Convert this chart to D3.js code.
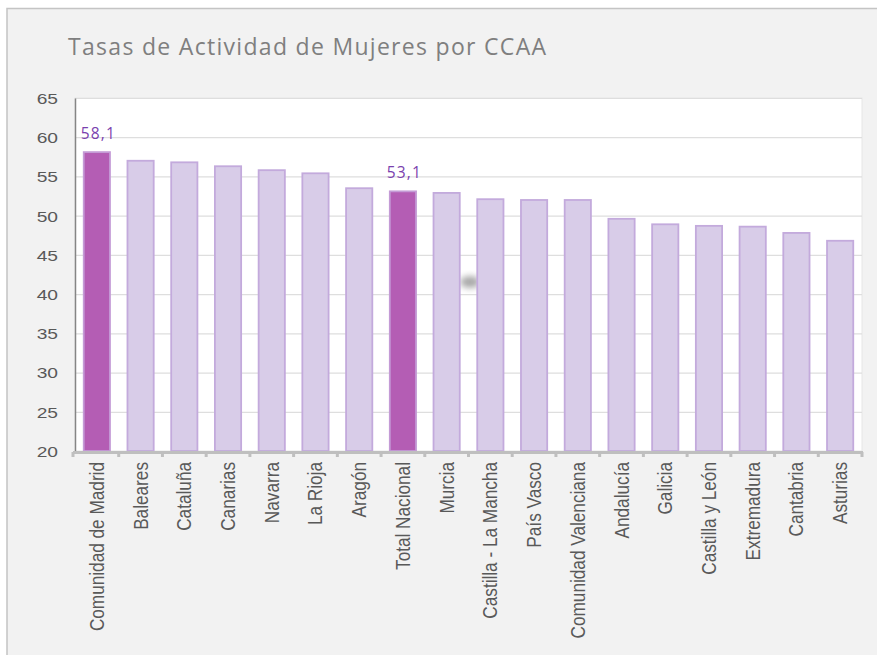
<!DOCTYPE html>
<html>
<head>
<meta charset="utf-8">
<script src="https://cdn.jsdelivr.net/npm/d3@7"></script>
<style>
  body { margin: 0; background: #fff; }
  svg { display: block; }
</style>
</head>
<body>
<div class="chart-container"></div>
<script>
var regions = ["Comunidad de Madrid", "Baleares", "Cataluña", "Canarias", "Navarra", "La Rioja",
    "Aragón", "Total Nacional", "Murcia", "Castilla - La Mancha", "País Vasco",
    "Comunidad Valenciana", "Andalucía", "Galicia", "Castilla y León", "Extremadura",
    "Cantabria", "Asturias"];
var tasas = [58.1, 57.0, 56.8, 56.3, 55.8, 55.4, 53.5, 53.1, 52.9, 52.1, 52.0, 52.0,
    49.6, 48.9, 48.7, 48.6, 47.8, 46.8];
var destacados = ["Comunidad de Madrid", "Total Nacional"];
var yTicks = [20, 25, 30, 35, 40, 45, 50, 55, 60, 65];

var width = 877, height = 655;
var margin = {top: 98, right: 15, bottom: 204, left: 75};
var plotW = width - margin.left - margin.right,
    plotH = height - margin.top - margin.bottom;

var svg = d3.select(".chart-container").append("svg")
    .attr("width", width)
    .attr("height", height);

var blur = svg.append("defs").append("filter")
    .attr("id", "smudge")
    .attr("x", "-50%").attr("y", "-50%").attr("width", "200%").attr("height", "200%");
blur.append("feGaussianBlur").attr("stdDeviation", 3);

// outer panel
svg.append("rect")
    .attr("x", 7).attr("y", 8.5)
    .attr("width", width).attr("height", height)
    .attr("fill", "#f2f2f2")
    .attr("stroke", "#c4c4c4")
    .attr("stroke-width", 1.5);

svg.append("text")
    .attr("x", 68).attr("y", 55)
    .attr("font-family", "'Open Sans', sans-serif")
    .attr("font-size", 23)
    .attr("letter-spacing", 1.3)
    .attr("fill", "#7f7f7f")
    .text("Tasas de Actividad de Mujeres por CCAA");

var g = svg.append("g")
    .attr("transform", "translate(" + margin.left + "," + margin.top + ")");

var x = d3.scaleBand().domain(regions).range([0, plotW]).paddingInner(0.4).paddingOuter(0.2);
var y = d3.scaleLinear().domain([20, 65]).range([plotH, 0]);

g.append("rect")
    .attr("width", plotW).attr("height", plotH)
    .attr("fill", "#fff")
    .attr("stroke", "#e6e6e6");

// gridlines
g.append("g").selectAll("line")
    .data(yTicks)
    .enter().append("line")
    .attr("x1", 0).attr("x2", plotW)
    .attr("y1", function (d) { return y(d) + 0.5; })
    .attr("y2", function (d) { return y(d) + 0.5; })
    .attr("stroke", "#dedede")
    .attr("stroke-width", 1.2);

// grey smudge seen in the source image, behind the bars
g.append("ellipse")
    .attr("cx", 470 - margin.left).attr("cy", 282 - margin.top)
    .attr("rx", 10).attr("ry", 6)
    .attr("fill", "#a8a8a8")
    .attr("filter", "url(#smudge)");

// bars
g.append("g").selectAll("rect")
    .data(regions)
    .enter().append("rect")
    .attr("x", function (d) { return x(d); })
    .attr("y", function (d, i) { return y(tasas[i]); })
    .attr("width", x.bandwidth())
    .attr("height", function (d, i) { return plotH - y(tasas[i]); })
    .attr("fill", function (d) { return destacados.indexOf(d) >= 0 ? "#b45db4" : "#d8cce8"; })
    .attr("stroke", function (d) { return destacados.indexOf(d) >= 0 ? "#c49bd6" : "#c3aadc"; })
    .attr("stroke-width", 1.8);

// data labels for highlighted bars
g.append("g").selectAll("text")
    .data(regions.filter(function (d) { return destacados.indexOf(d) >= 0; }))
    .enter().append("text")
    .attr("x", function (d) { return x(d) + x.bandwidth() / 2 + 1.5; })
    .attr("y", function (d) { return y(tasas[regions.indexOf(d)]) - 13; })
    .attr("text-anchor", "middle")
    .attr("font-family", "'Open Sans', sans-serif")
    .attr("font-size", 15.5)
    .attr("letter-spacing", 1.2)
    .attr("fill", "#7a3fae")
    .text(function (d) { return d3.format(".1f")(tasas[regions.indexOf(d)]).replace(".", ","); });

// y axis
var yAxis = g.append("g")
    .call(d3.axisLeft(y).tickValues(yTicks).tickSize(0).tickPadding(0));
yAxis.select(".domain").attr("stroke", "#868686").attr("stroke-width", 1.5);
yAxis.selectAll("text")
    .attr("x", 0)
    .attr("dy", "0.36em")
    .attr("transform", "translate(-17,0) scale(1.28,1)")
    .attr("font-family", "'Liberation Sans', Arial, sans-serif")
    .attr("font-size", 15)
    .attr("fill", "#595959");

// x axis: thick gray line with boundary ticks
var step = x.step();
var boundaries = d3.range(regions.length + 1).map(function (i) { return x.range()[0] + i * step; });
var xg = g.append("g").attr("transform", "translate(0," + plotH + ")");
xg.append("line")
    .attr("x1", -2).attr("x2", plotW + 1)
    .attr("y1", 1.5).attr("y2", 1.5)
    .attr("stroke", "#bfbfbf").attr("stroke-width", 3);
xg.selectAll(".tk")
    .data(boundaries)
    .enter().append("line")
    .attr("class", "tk")
    .attr("x1", function (d, i) { return i === 0 ? d - 2 : d; })
    .attr("x2", function (d, i) { return i === 0 ? d - 2 : d; })
    .attr("y1", 1).attr("y2", 6)
    .attr("stroke", "#bfbfbf").attr("stroke-width", 3);

xg.selectAll(".lbl")
    .data(regions)
    .enter().append("text")
    .attr("class", "lbl")
    .attr("transform", function (d) {
        return "translate(" + (x(d) + x.bandwidth() / 2 + 7) + ",11) rotate(-90) scale(1,1.2)";
    })
    .attr("text-anchor", "end")
    .attr("font-family", "'Liberation Sans', Arial, sans-serif")
    .attr("font-size", 17.2)
    .attr("fill", "#595959")
    .text(function (d) { return d; });
</script>
</body>
</html>
